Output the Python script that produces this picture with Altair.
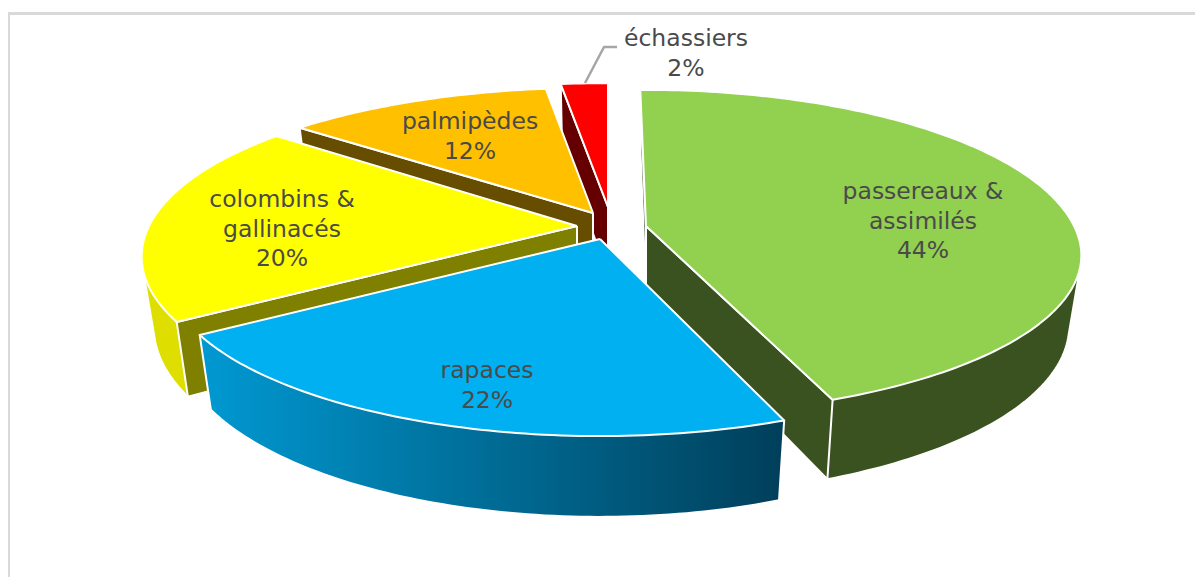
import math
import altair as alt
import pandas as pd

# ---- data ----
categories = ["passereaux & assimilés", "rapaces", "colombins & gallinacés", "palmipèdes", "échassiers"]
shares = [44, 22, 20, 12, 2]
label_lines = [["passereaux &", "assimilés", "44%"], ["rapaces", "22%"],
               ["colombins &", "gallinacés", "20%"], ["palmipèdes", "12%"], ["échassiers", "2%"]]

# ---- styling / geometry ----
W, H = 1187, 569
OFF = 8
apex = [(646, 226), (600, 239), (577, 226), (593, 213), (608, 207)]
yscale = [1, 1, 1, 0.92, 0.91]
front_scale = [0.96, 1, 1, 1, 1]
top_col = ["#92D050", "#00B0F0", "#FFFF00", "#FFC000", "#FF0000"]
face_col = ["#3A5220", "#004A66", "#808000", "#664D00", "#660000"]
side_col = ["#3A5220", None, "#DEDE00", "#997300", "#990000"]
label_pos = [(923, 192), (487, 371), (282, 200), (470, 122), (686, 39)]
LINE_GAP = 29.5
A, B, K = 428.0, 161.0, 0.183
START = 0.4
leader = [(585, 83), (604, 47), (617, 47)]

xs = alt.Scale(domain=[OFF, OFF + W], range=[0, W])
ys = alt.Scale(domain=[OFF, OFF + H], range=[0, H])


def rim(i, deg, bottom=False):
    t = math.radians(deg)
    u, v = math.sin(t), math.cos(t)
    X = A * u / (1 + K * v)
    Y = -B * v / (1 + K * v) * yscale[i]
    if Y > 0:
        Y *= front_scale[i]
    ax, ay = apex[i]
    if bottom:
        return ax + 0.972 * X, ay + 69 + 1.06 * Y
    return ax + X, ay + Y


def base(i, bottom=False):
    ax, ay = apex[i]
    return (ax, ay + 69) if bottom else (ax, ay)


def hull(points):
    pts = sorted(set(points))

    def cross(o, a, b):
        return (a[0] - o[0]) * (b[1] - o[1]) - (a[1] - o[1]) * (b[0] - o[0])

    lo, up = [], []
    for p in pts:
        while len(lo) >= 2 and cross(lo[-2], lo[-1], p) <= 0:
            lo.pop()
        lo.append(p)
    for p in reversed(pts):
        while len(up) >= 2 and cross(up[-2], up[-1], p) <= 0:
            up.pop()
        up.append(p)
    h = lo[:-1] + up[:-1]
    return h + [h[0]]


def poly(pts, **mk):
    df = pd.DataFrame({"x": [p[0] for p in pts], "y": [p[1] for p in pts], "i": range(len(pts))})
    mk.setdefault("stroke", "white")
    mk.setdefault("strokeWidth", 2)
    return alt.Chart(df).mark_line(strokeJoin="round", **mk).encode(
        x=alt.X("x:Q", scale=xs, axis=None),
        y=alt.Y("y:Q", scale=ys, axis=None),
        order=alt.Order("i:Q"),
    )


layers = []
# frame
frame = [(8.5, 577), (8.5, 13.5), (1195, 13.5)]
layers.append(poly(frame, stroke="#D9D9D9", strokeWidth=3))

bounds = []
c = START
for s in shares:
    bounds.append([c, c + s * 3.6])
    c += s * 3.6
# small offsets: rounded percentages vs. drawn slice edges
bounds[0][0] = -0.9
bounds[1][0] += 0.3
bounds[1][1] -= 0.5
bounds[2][0] -= 0.5
bounds[2][1] -= 1.5
bounds[3][1] -= 0.7
bounds[4][0] -= 0.7
bounds[4][1] = 360.0

visible_faces = {0: [0, 1], 1: [], 2: [0], 3: [0], 4: [0]}

for i in [0, 4, 3, 2, 1]:
    a0, a1 = bounds[i]
    n = max(3, int(abs(a1 - a0)))
    degs = [a0 + (a1 - a0) * j / n for j in range(n + 1)]
    toparc = [rim(i, d) for d in degs]
    botarc = [rim(i, d, True) for d in degs]
    # outer wall
    wall = hull(toparc + botarc)
    if i == 1:
        grad = alt.LinearGradient(
            gradient="linear", x1=0, x2=1, y1=0, y2=0,
            stops=[alt.GradientStop(color="#0099D2", offset=0),
                   alt.GradientStop(color="#003F5A", offset=1)],
        )
        layers.append(poly(wall, fill=grad))
    else:
        layers.append(poly(wall, fill=side_col[i]))
    # radial faces
    for f in visible_faces[i]:
        d = bounds[i][f]
        q = [base(i), rim(i, d), rim(i, d, True), base(i, True)]
        q.append(q[0])
        layers.append(poly(q, fill=face_col[i]))
    # top
    top = [base(i)] + toparc + [base(i)]
    layers.append(poly(top, fill=top_col[i]))

layers.append(poly(leader, stroke="#A6A6A6", strokeWidth=2.5))

rows = []
for cat, lines, (lx, ly) in zip(categories, label_lines, label_pos):
    for j, t in enumerate(lines):
        rows.append({"cat": cat, "t": t, "x": lx, "y": ly + j * LINE_GAP})
labels = alt.Chart(pd.DataFrame(rows)).mark_text(
    font="DejaVu Sans", fontSize=23.5, color="#4A4A4A", align="center", baseline="middle"
).encode(
    x=alt.X("x:Q", scale=xs, axis=None),
    y=alt.Y("y:Q", scale=ys, axis=None),
    text="t:N",
)
layers.append(labels)

chart = alt.layer(*layers).properties(
    width=W, height=H, padding=0, autosize=alt.AutoSizeParams(type="none")
).configure_view(stroke=None)

chart.save("out.html", embed_options={"renderer": "svg", "actions": False})
